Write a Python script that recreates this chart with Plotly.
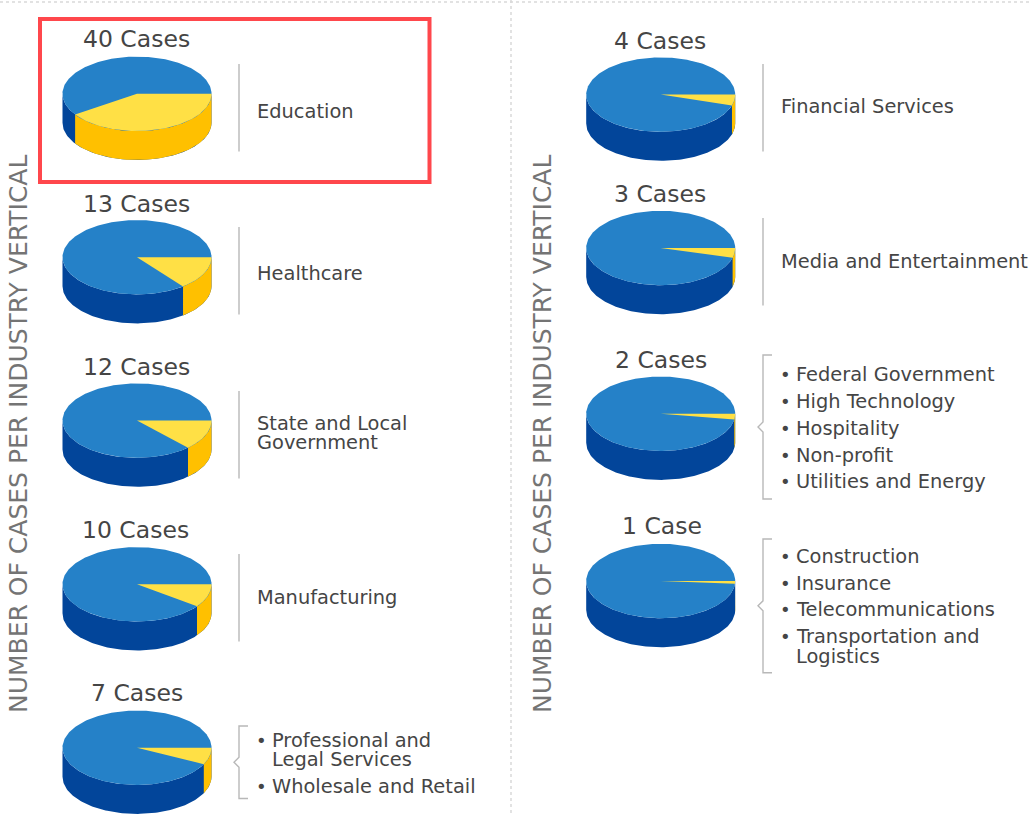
import numpy as np
import plotly.graph_objects as go

# ---- data ----
case_counts = [40, 13, 12, 10, 7, 4, 3, 2, 1]
wedge_percent = [40.6, 14.4, 13.0, 10.1, 7.3, 4.7, 4.2, 2.5, 1.2]
axis_title = "NUMBER OF CASES PER INDUSTRY VERTICAL"
single_labels = {40: ["Education"], 13: ["Healthcare"], 12: ["State and Local", "Government"],
                 10: ["Manufacturing"], 4: ["Financial Services"], 3: ["Media and Entertainment"]}
bullet_labels = {7: [["Professional and", "Legal Services"], ["Wholesale and Retail"]],
                 2: [["Federal Government"], ["High Technology"], ["Hospitality"], ["Non-profit"], ["Utilities and Energy"]],
                 1: [["Construction"], ["Insurance"], ["Telecommunications"], ["Transportation and", "Logistics"]]}

# ---- layout (pixels) ----
W, H = 1031, 816
RX, RY, DEPTH = 74.5, 37.2, 29
pie_cx = [137, 137, 137, 137, 137, 660.7, 660.7, 660.7, 660.7]
pie_cy = [93.8, 257.2, 420.6, 584.3, 747.7, 94.6, 248, 413.7, 581]
head_cx = [136.5, 136.5, 136.5, 135.5, 136.5, 660, 660, 660.5, 662]
head_cy = [39, 204, 367, 530, 693, 41, 194, 360, 526]
rule_x = [239, 239, 239, 239, 239, 763, 763, 763, 763]
rule_span = [(64, 151.5), (227, 314.5), (391, 478.5), (554, 641.5), (726, 798.5),
             (64, 151.5), (218, 305.5), (355, 499), (539, 672.7)]
label_y = {40: [111], 13: [273], 12: [423, 442], 10: [597], 4: [106], 3: [261],
           7: [[740, 759], [786]],
           2: [[374], [401], [428], [455], [481]],
           1: [[556], [583], [609], [636, 656]]}

BLUE_TOP, BLUE_SIDE = "#2581C8", "#02459A"
YEL_TOP, YEL_SIDE = "#FFE045", "#FFC000"
TXT = "#454545"
FONT = "DejaVu Sans"

fig = go.Figure()


def poly(xs, ys, color):
    fig.add_trace(go.Scatter(x=xs, y=ys, mode="lines", fill="toself", fillcolor=color,
                             line=dict(width=0, color=color), hoverinfo="skip", showlegend=False))


def line(xs, ys, color, width=1.4, dash=None):
    fig.add_trace(go.Scatter(x=xs, y=ys, mode="lines", line=dict(color=color, width=width, dash=dash),
                             hoverinfo="skip", showlegend=False))


def text(x, y, s, size, anchor="left", color=TXT, angle=0):
    fig.add_annotation(x=x, y=y, xref="x", yref="y", text=s, showarrow=False, xanchor=anchor,
                       yanchor="middle", textangle=angle, font=dict(family=FONT, size=size, color=color))


def pie3d(cx, cy, pct):
    end = np.radians(360 * pct / 100)
    t_front = np.linspace(0, np.pi, 120)
    t_all = np.linspace(0, 2 * np.pi, 240)
    t_wedge = np.linspace(0, end, 80)
    ex, ey = RX * np.cos(t_front) + cx, RY * np.sin(t_front) + cy
    poly(np.r_[ex, ex[::-1]], np.r_[ey, ey[::-1] + DEPTH], BLUE_SIDE)
    wx, wy = RX * np.cos(t_wedge) + cx, RY * np.sin(t_wedge) + cy
    poly(np.r_[wx, wx[::-1]], np.r_[wy, wy[::-1] + DEPTH], YEL_SIDE)
    poly(RX * np.cos(t_all) + cx, RY * np.sin(t_all) + cy, BLUE_TOP)
    poly(np.r_[cx, wx, cx], np.r_[cy, wy, cy], YEL_TOP)


# frame, dotted separators
line([0, W], [2, 2], "#D9D9D9", 1.5, "dot")
line([511, 511], [0, H], "#D9D9D9", 1.5, "dot")
fig.add_shape(type="rect", x0=40, x1=429.5, y0=19, y1=182, xref="x", yref="y",
              line=dict(color="#FF474C", width=4))

for i, n in enumerate(case_counts):
    pie3d(pie_cx[i], pie_cy[i], wedge_percent[i])
    text(head_cx[i], head_cy[i], f"{n} Case" + ("" if n == 1 else "s"), 23.5, "center")
    rx = rule_x[i]
    y0, y1 = rule_span[i]
    if n in single_labels:
        line([rx, rx], [y0, y1], "#B8B8B8")
        for s, y in zip(single_labels[n], label_y[n]):
            text(rx + 16, y, s, 19.4)
    else:
        ym = (y0 + y1) / 2
        line([rx + 9, rx, rx, rx - 5, rx, rx, rx + 9], [y0, y0, ym - 5, ym, ym + 5, y1, y1], "#B8B8B8")
        for group, ys in zip(bullet_labels[n], label_y[n]):
            text(rx + 15, ys[0], "•", 18)
            for s, y in zip(group, ys):
                text(rx + 31, y, s, 19.4)

text(18, 434, axis_title, 25, "center", "#747474", -90)
text(542, 434, axis_title, 25, "center", "#747474", -90)

fig.update_layout(width=W, height=H, margin=dict(l=0, r=0, t=0, b=0), plot_bgcolor="white",
                  paper_bgcolor="white", showlegend=False,
                  xaxis=dict(range=[0, W], visible=False, fixedrange=True),
                  yaxis=dict(range=[H, 0], visible=False, fixedrange=True))
fig.write_html("out.html", config={"displayModeBar": False},
               post_script="document.body.style.margin='0';document.body.style.overflow='hidden';")
